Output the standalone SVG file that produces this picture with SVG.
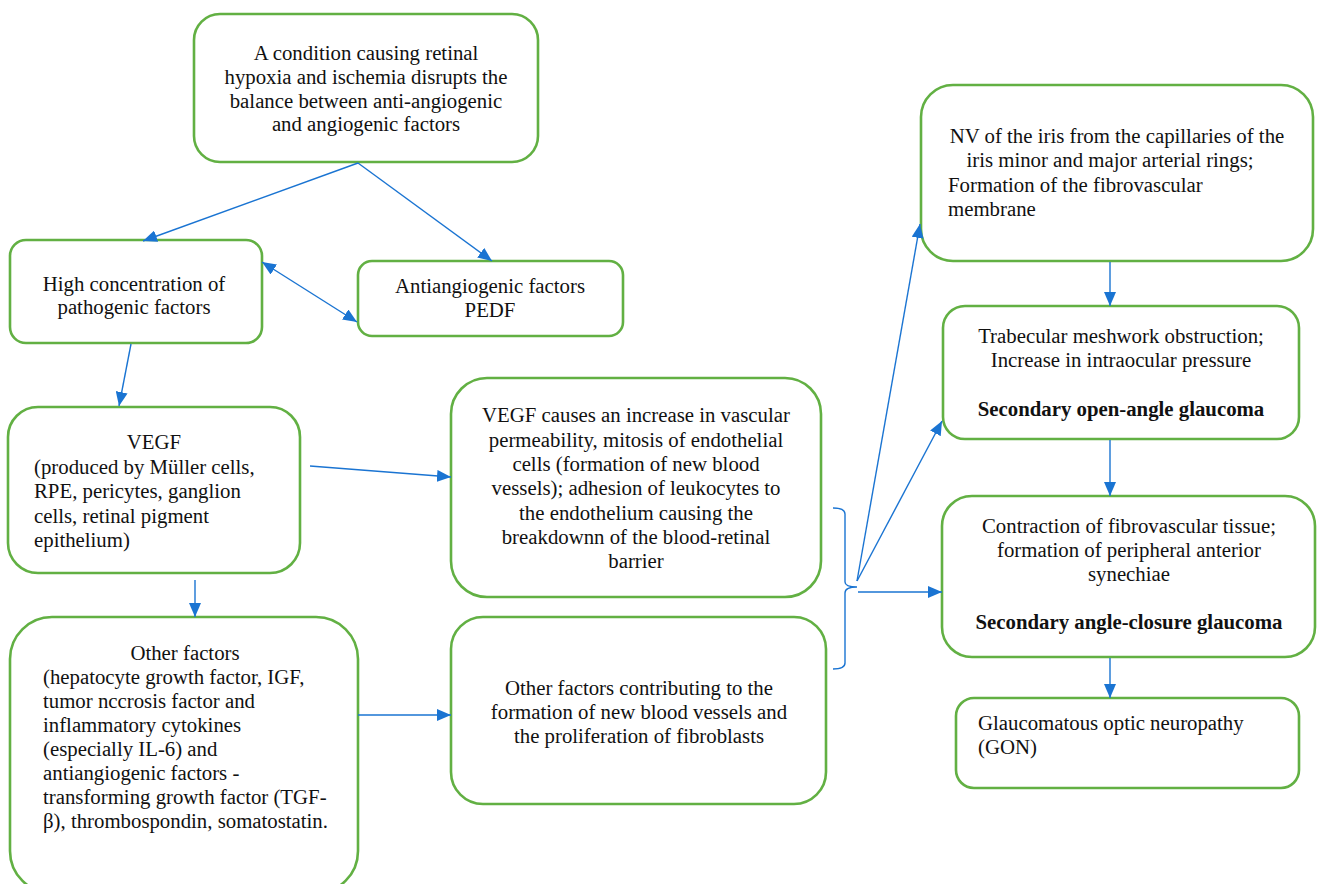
<svg xmlns="http://www.w3.org/2000/svg" width="1317" height="884" viewBox="0 0 1317 884">
<defs>
<style>
.box{fill:#fff;stroke:#62b043;stroke-width:2.6}
.t{font-family:"Liberation Serif","Times New Roman",serif;font-size:20.8px;fill:#111}
.c{text-anchor:middle}
.b{font-weight:bold}
.ln{stroke:#1a74d2;stroke-width:1.4;fill:none}
</style>
<marker id="ah" viewBox="0 0 14 12" refX="14" refY="6" markerWidth="14" markerHeight="12" markerUnits="userSpaceOnUse" orient="auto-start-reverse">
<path d="M0,0 L14,6 L0,12 Z" fill="#1a74d2"/>
</marker>
</defs>
<rect width="1317" height="884" fill="#fff"/>

<g id="n1">
<rect class="box" x="194" y="14" width="344" height="148" rx="26"/>
<text class="t c" x="366" y="60">A condition causing retinal</text>
<text class="t c" x="366" y="84">hypoxia and ischemia disrupts the</text>
<text class="t c" x="366" y="107.5">balance between anti-angiogenic</text>
<text class="t c" x="366" y="131">and angiogenic factors</text>
</g>

<g id="n2">
<rect class="box" x="10" y="240" width="252" height="103" rx="16"/>
<text class="t c" x="134" y="291">High concentration of</text>
<text class="t c" x="134" y="314">pathogenic factors</text>
</g>

<g id="n3">
<rect class="box" x="358" y="261" width="265" height="75" rx="14"/>
<text class="t c" x="490" y="293">Antiangiogenic factors</text>
<text class="t c" x="490" y="317">PEDF</text>
</g>

<g id="n4">
<rect class="box" x="8" y="407" width="292" height="166" rx="30"/>
<text class="t c" x="154" y="449">VEGF</text>
<text class="t" x="34" y="473.5">(produced by Müller cells,</text>
<text class="t" x="34" y="498">RPE, pericytes, ganglion</text>
<text class="t" x="34" y="522.5">cells, retinal pigment</text>
<text class="t" x="34" y="547">epithelium)</text>
</g>

<g id="n5">
<rect class="box" x="451" y="378" width="370" height="219" rx="36"/>
<text class="t c" x="636" y="422">VEGF causes an increase in vascular</text>
<text class="t c" x="636" y="446.5">permeability, mitosis of endothelial</text>
<text class="t c" x="636" y="471">cells (formation of new blood</text>
<text class="t c" x="636" y="495">vessels); adhesion of leukocytes to</text>
<text class="t c" x="636" y="519.5">the endothelium causing the</text>
<text class="t c" x="636" y="544">breakdownn of the blood-retinal</text>
<text class="t c" x="636" y="568">barrier</text>
</g>

<g id="n6">
<rect class="box" x="10" y="617" width="348" height="276" rx="42"/>
<text class="t c" x="185" y="660">Other factors</text>
<text class="t" x="43" y="684">(hepatocyte growth factor, IGF,</text>
<text class="t" x="43" y="708">tumor nccrosis factor and</text>
<text class="t" x="43" y="732">inflammatory cytokines</text>
<text class="t" x="43" y="756">(especially IL-6) and</text>
<text class="t" x="43" y="780">antiangiogenic factors -</text>
<text class="t" x="43" y="804">transforming growth factor (TGF-</text>
<text class="t" x="43" y="828">β), thrombospondin, somatostatin.</text>
</g>

<g id="n7">
<rect class="box" x="451" y="617" width="375" height="187" rx="32"/>
<text class="t c" x="639" y="695">Other factors contributing to the</text>
<text class="t c" x="639" y="719">formation of new blood vessels and</text>
<text class="t c" x="639" y="743">the proliferation of fibroblasts</text>
</g>

<g id="n8">
<rect class="box" x="921" y="85" width="392" height="176" rx="32"/>
<text class="t c" x="1117" y="143">NV of the iris from the capillaries of the</text>
<text class="t c" x="1110" y="167">iris minor and major arterial rings;</text>
<text class="t" x="948" y="191.5">Formation of the fibrovascular</text>
<text class="t" x="948" y="215.5">membrane</text>
</g>

<g id="n9">
<rect class="box" x="943" y="306" width="356" height="133" rx="22"/>
<text class="t c" x="1121" y="343">Trabecular meshwork obstruction;</text>
<text class="t c" x="1121" y="367">Increase in intraocular pressure</text>
<text class="t c b" x="1121" y="416">Secondary open-angle glaucoma</text>
</g>

<g id="n10">
<rect class="box" x="942" y="496" width="373" height="161" rx="30"/>
<text class="t c" x="1129" y="533">Contraction of fibrovascular tissue;</text>
<text class="t c" x="1129" y="557">formation of peripheral anterior</text>
<text class="t c" x="1129" y="581">synechiae</text>
<text class="t c b" x="1129" y="629">Secondary angle-closure glaucoma</text>
</g>

<g id="n11">
<rect class="box" x="956" y="698" width="343" height="90" rx="18"/>
<text class="t" x="978" y="730">Glaucomatous optic neuropathy</text>
<text class="t" x="978" y="754">(GON)</text>
</g>

<g id="connectors">
<path class="ln" d="M358,163 L143,241" marker-end="url(#ah)"/>
<path class="ln" d="M358,163 L492,261" marker-end="url(#ah)"/>
<path class="ln" d="M262,262 L357,322" marker-start="url(#ah)" marker-end="url(#ah)"/>
<path class="ln" d="M131,344 L119,406" marker-end="url(#ah)"/>
<path class="ln" d="M310,466 L451,477" marker-end="url(#ah)"/>
<path class="ln" d="M195,580 L195,617" marker-end="url(#ah)"/>
<path class="ln" d="M358,715 L451,715" marker-end="url(#ah)"/>
<path class="ln" d="M833,508 Q845,508 845,514 L845,582 Q845,587 857,587 Q845,587 845,593 L845,663 Q845,669 833,669"/>
<path class="ln" d="M857,581 L920,224" marker-end="url(#ah)"/>
<path class="ln" d="M857,581 L942,421" marker-end="url(#ah)"/>
<path class="ln" d="M858,592 L942,592" marker-end="url(#ah)"/>
<path class="ln" d="M1110,262 L1110,306" marker-end="url(#ah)"/>
<path class="ln" d="M1110,440 L1110,496" marker-end="url(#ah)"/>
<path class="ln" d="M1110,658 L1110,698" marker-end="url(#ah)"/>
</g>
</svg>
